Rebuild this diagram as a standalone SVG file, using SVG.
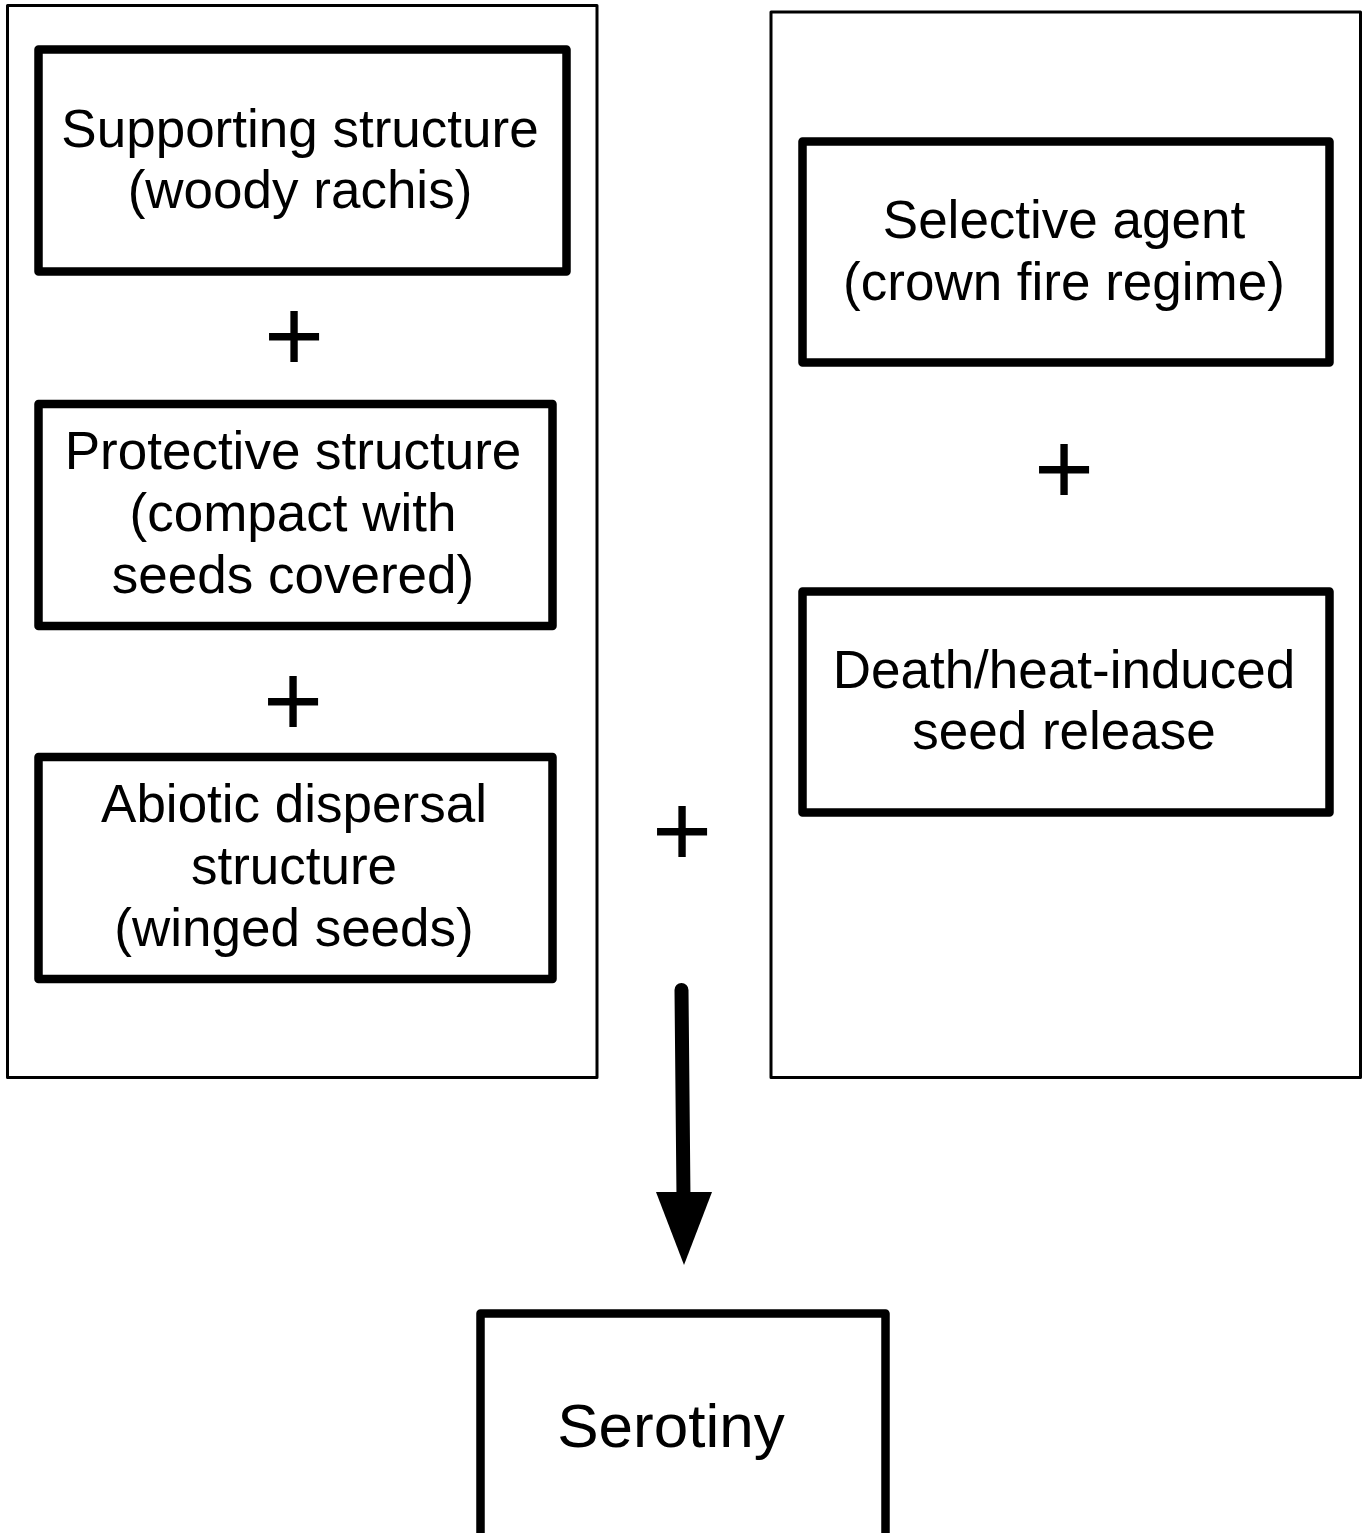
<svg xmlns="http://www.w3.org/2000/svg" width="1368" height="1533" viewBox="0 0 1368 1533">
<style>
.outer{fill:none;stroke:#000;stroke-width:3;stroke-linejoin:round}
.box{fill:#fff;stroke:#000;stroke-width:8.5;stroke-linejoin:round}
.t{font-family:"Liberation Sans",Arial,Helvetica,sans-serif;font-size:53px;fill:#000;text-anchor:middle}
.plus{font-family:"Liberation Sans",Arial,Helvetica,sans-serif;font-size:103px;fill:#000;text-anchor:middle}
</style>
<rect width="1368" height="1533" fill="#fff"/>
<g id="left-group"><rect class="outer" x="7.5" y="5.5" width="589.5" height="1072"/></g>
<g id="right-group"><rect class="outer" x="771" y="12" width="589.5" height="1065.5"/></g>
<g id="supporting"><rect class="box" x="38.5" y="49.5" width="528" height="222"/>
<text class="t" x="300" y="147">Supporting structure</text>
<text class="t" x="300" y="208">(woody rachis)</text></g>
<g id="protective"><rect class="box" x="38.5" y="404" width="514" height="222"/>
<text class="t" x="293" y="469">Protective structure</text>
<text class="t" x="293" y="531">(compact with</text>
<text class="t" x="293" y="593">seeds covered)</text></g>
<g id="abiotic"><rect class="box" x="38.5" y="757" width="514" height="222"/>
<text class="t" x="294" y="822">Abiotic dispersal</text>
<text class="t" x="294" y="884">structure</text>
<text class="t" x="294" y="946">(winged seeds)</text></g>
<g id="selective"><rect class="box" x="802.5" y="141.5" width="527" height="221"/>
<text class="t" x="1064" y="238">Selective agent</text>
<text class="t" x="1064" y="300">(crown fire regime)</text></g>
<g id="death"><rect class="box" x="802.5" y="591.5" width="527" height="221"/>
<text class="t" x="1064" y="688">Death/heat-induced</text>
<text class="t" x="1064" y="749">seed release</text></g>
<g id="serotiny"><rect class="box" x="480.5" y="1313.5" width="405" height="240"/>
<text class="t" style="font-size:62px" x="671" y="1447">Serotiny</text></g>
<g id="plus-signs">
<text class="plus" x="294" y="371">+</text>
<text class="plus" x="293" y="736">+</text>
<text class="plus" x="682" y="866">+</text>
<text class="plus" x="1064" y="504">+</text>
</g>
<g id="connectors">
<line x1="681.5" y1="990" x2="683.5" y2="1198" stroke="#000" stroke-width="14" stroke-linecap="round"/>
<polygon points="656,1192 712,1192 684,1265" fill="#000"/>
</g>
</svg>
